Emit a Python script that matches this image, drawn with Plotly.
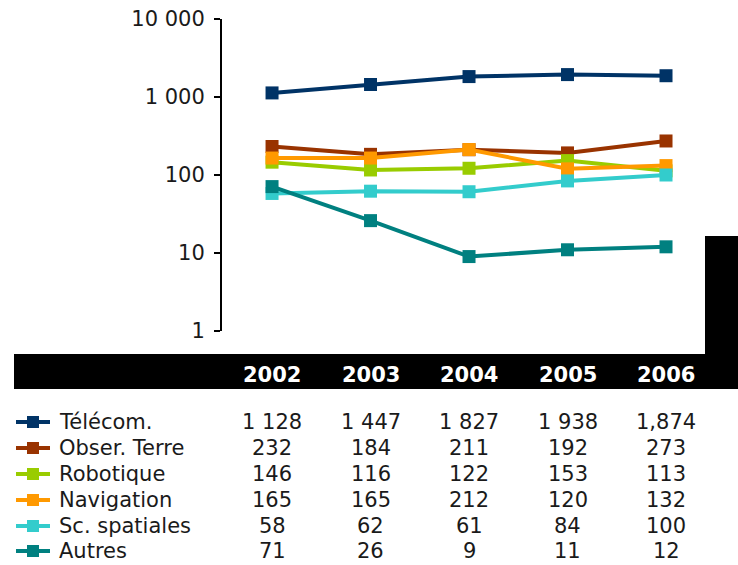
import plotly.graph_objects as go

years = [2002, 2003, 2004, 2005, 2006]
series_names = ["Télécom.", "Obser. Terre", "Robotique", "Navigation", "Sc. spatiales", "Autres"]
telecom = [1128, 1447, 1827, 1938, 1874]
obser_terre = [232, 184, 211, 192, 273]
robotique = [146, 116, 122, 153, 113]
navigation = [165, 165, 212, 120, 132]
sc_spatiales = [58, 62, 61, 84, 100]
autres = [71, 26, 9, 11, 12]
telecom_labels = ["1 128", "1 447", "1 827", "1 938", "1,874"]
colors = ["#003366", "#993300", "#99CC00", "#FF9900", "#33CCCC", "#008080"]
y_tickvals = [1, 10, 100, 1000, 10000]
y_ticktext = ["1", "10", "100", "1 000", "10 000"]

all_series = [telecom, obser_terre, robotique, navigation, sc_spatiales, autres]

W, H = 738, 565
FONT = "DejaVu Sans"
FS = 21
TXT = "#1a1a1a"


def py(pix):
    return 1 - pix / H


def px(pix):
    return pix / W


def fmt(v):
    return f"{v:,}".replace(",", " ")


fig = go.Figure()
for name, vals, col in zip(series_names, all_series, colors):
    fig.add_trace(go.Scatter(
        x=years, y=vals, name=name, mode="lines+markers",
        line=dict(color=col, width=4),
        marker=dict(symbol="square", size=13, color=col),
        showlegend=False,
    ))

shapes = [
    dict(type="rect", xref="paper", yref="paper", x0=px(14), x1=px(706), y0=py(389), y1=py(354),
         fillcolor="black", line=dict(width=0), layer="below"),
    dict(type="rect", xref="paper", yref="paper", x0=px(705), x1=1.0, y0=py(389), y1=py(236),
         fillcolor="black", line=dict(width=0), layer="below"),
]

annotations = []
for yr in years:
    annotations.append(dict(x=yr, y=py(375), xref="x", yref="paper", text=f"<b>{yr}</b>",
                            showarrow=False, font=dict(family=FONT, size=FS, color="white"),
                            xanchor="center", yanchor="middle"))

row_y = [422, 448, 474, 500, 526, 551]
for i, (name, vals, col) in enumerate(zip(series_names, all_series, colors)):
    yc = row_y[i]
    # legend key: line with square marker
    shapes.append(dict(type="line", xref="paper", yref="paper", x0=px(16), x1=px(50),
                       y0=py(yc), y1=py(yc), line=dict(color=col, width=4)))
    shapes.append(dict(type="rect", xref="paper", yref="paper", x0=px(27), x1=px(39),
                       y0=py(yc + 6), y1=py(yc - 6), fillcolor=col, line=dict(width=0)))
    annotations.append(dict(x=px(57), y=py(yc), xref="paper", yref="paper", text=name,
                            showarrow=False, font=dict(family=FONT, size=FS, color=TXT),
                            xanchor="left", yanchor="middle"))
    labels = telecom_labels if i == 0 else [fmt(v) for v in vals]
    for yr, lab in zip(years, labels):
        annotations.append(dict(x=yr, y=py(yc), xref="x", yref="paper", text=lab,
                                showarrow=False, font=dict(family=FONT, size=FS, color=TXT),
                                xanchor="center", yanchor="middle"))

fig.update_layout(
    width=W, height=H, autosize=False,
    margin=dict(l=0, r=0, t=0, b=0, pad=0),
    paper_bgcolor="white", plot_bgcolor="white",
    font=dict(family=FONT, size=FS, color=TXT),
    showlegend=False,
    xaxis=dict(domain=[px(222), px(706)], range=[2001.492, 2006.406], automargin=False,
               showticklabels=False, showgrid=False, zeroline=False, showline=False, ticks=""),
    yaxis=dict(type="log", domain=[py(331), py(19)], range=[0, 4], automargin=False,
               showline=True, linecolor="black", linewidth=2,
               ticks="outside", ticklen=6, tickwidth=2, tickcolor="black",
               tickvals=y_tickvals, ticktext=y_ticktext, ticklabelstandoff=5,
               showgrid=False, zeroline=False,
               tickfont=dict(family=FONT, size=FS, color=TXT)),
    shapes=shapes,
    annotations=annotations,
)

fig.write_html("out.html", config={"displayModeBar": False},
               post_script="document.body.style.margin='0';document.body.style.overflow='hidden';")
